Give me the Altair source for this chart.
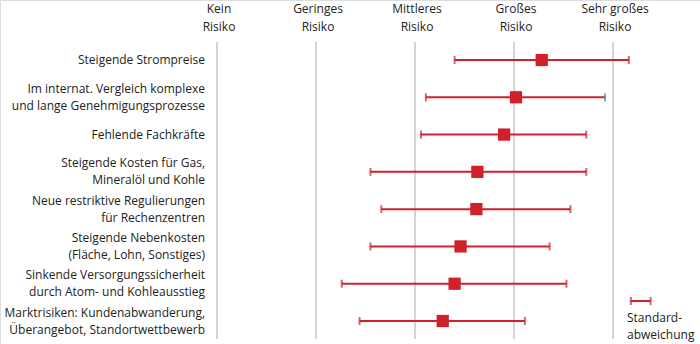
import altair as alt
import pandas as pd

categories = [
    "Steigende Strompreise",
    "Im internat. Vergleich komplexe\nund lange Genehmigungsprozesse",
    "Fehlende Fachkräfte",
    "Steigende Kosten für Gas,\nMineralöl und Kohle",
    "Neue restriktive Regulierungen\nfür Rechenzentren",
    "Steigende Nebenkosten\n(Fläche, Lohn, Sonstiges)",
    "Sinkende Versorgungssicherheit\ndurch Atom- und Kohleausstieg",
    "Marktrisiken: Kundenabwanderung,\nÜberangebot, Standortwettbewerb",
]
means = [4.28, 4.02, 3.90, 3.63, 3.62, 3.46, 3.40, 3.28]
lows = [3.40, 3.11, 3.06, 2.55, 2.66, 2.55, 2.26, 2.44]
highs = [5.16, 4.92, 4.73, 4.73, 4.57, 4.36, 4.53, 4.11]

scale_values = [1, 2, 3, 4, 5]
scale_labels = ["Kein\nRisiko", "Geringes\nRisiko", "Mittleres\nRisiko", "Großes\nRisiko", "Sehr großes\nRisiko"]

legend_lo = [5.18]
legend_hi = [5.38]
legend_text = ["Standard-\nabweichung"]

RED = "#d0202a"
GRID = "#c6c6c6"
FONT = "Open Sans"
FS = 12

df = pd.DataFrame({"cat": categories, "mean": means, "lo": lows, "hi": highs})
df_scale = pd.DataFrame({"v": scale_values, "label": scale_labels})
df_leg = pd.DataFrame({"lo": legend_lo, "hi": legend_hi, "t": legend_text})

xs = alt.Scale(domain=[1, 5], range=[217, 613])
ys = alt.Scale(type="point", domain=categories, range=[60, 321], padding=0)

X = lambda f: alt.X(f, type="quantitative", scale=xs, axis=None)
Y = alt.Y("cat:N", scale=ys, axis=None)

grid = alt.Chart(df_scale).mark_rule(color=GRID, strokeWidth=1.5).encode(
    x=X("v"), y=alt.value(42), y2=alt.value(339)
)
head = alt.Chart(df_scale).mark_text(
    font=FONT, fontSize=FS, color="#222", lineBreak="\n", lineHeight=18,
    baseline="middle", align="center", dx=2
).encode(x=X("v"), y=alt.value(9), text="label:N")

bars = alt.Chart(df).mark_rule(color=RED, strokeWidth=2).encode(x=X("lo"), x2="hi", y=Y)
cap_lo = alt.Chart(df).mark_tick(color=RED, orient="vertical", size=8, thickness=2).encode(x=X("lo"), y=Y)
cap_hi = alt.Chart(df).mark_tick(orient="vertical", size=8, thickness=2).encode(
    x=X("hi"), y=Y,
    color=alt.condition(alt.datum.cat == categories[1], alt.value("#2f7fc0"), alt.value(RED)),
)
pts = alt.Chart(df).mark_square(color=RED, size=150, opacity=1).encode(x=X("mean"), y=Y)
labels = alt.Chart(df).transform_calculate(
    off="indexof(datum.cat, '\\n') >= 0 ? -8.5 : 0"
).mark_text(
    font=FONT, fontSize=FS, color="#222", lineBreak="\n", lineHeight=17,
    align="right", baseline="middle"
).encode(x=alt.value(205), y=Y, yOffset=alt.YOffset("off:Q", scale=None), text="cat:N")

leg_bar = alt.Chart(df_leg).mark_rule(color=RED, strokeWidth=2).encode(x=X("lo"), x2="hi", y=alt.value(301))
leg_c1 = alt.Chart(df_leg).mark_tick(color=RED, orient="vertical", size=8, thickness=2).encode(x=X("lo"), y=alt.value(301))
leg_c2 = alt.Chart(df_leg).mark_tick(color=RED, orient="vertical", size=8, thickness=2).encode(x=X("hi"), y=alt.value(301))
leg_t = alt.Chart(df_leg).mark_text(
    font=FONT, fontSize=FS, color="#222", lineBreak="\n", lineHeight=17,
    align="left", baseline="middle"
).encode(x=alt.value(627), y=alt.value(318), text="t:N")

chart = alt.layer(grid, head, bars, cap_lo, cap_hi, pts, labels, leg_bar, leg_c1, leg_c2, leg_t).properties(
    width=700, height=344, autosize=alt.AutoSizeParams(type="none"), padding=0
).configure_view(stroke=None).configure(background="white")

chart.save("out.html", embed_options={"renderer": "svg", "actions": False})
